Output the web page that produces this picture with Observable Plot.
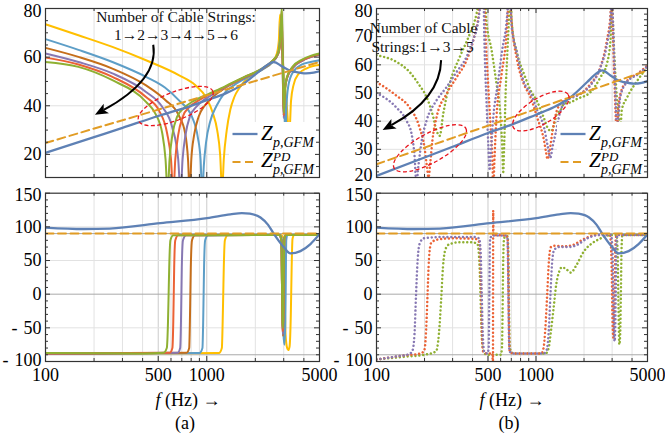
<!DOCTYPE html>
<html><head><meta charset="utf-8">
<script src="https://cdn.jsdelivr.net/npm/d3@7"></script>
<script src="https://cdn.jsdelivr.net/npm/@observablehq/plot@0.6"></script>
<style>
body{margin:0;background:#fff;}
#root{position:relative;width:665px;height:440px;overflow:hidden;background:#fff;}
</style></head><body><div id="root"></div><script>
const FONT = '"Liberation Serif","Times New Roman",Times,serif';

// ---------- axes ----------
const xTickLabels = [100, 500, 1000, 5000];
const xGridMinor = [200, 300, 400, 600, 700, 800, 900, 2000, 3000, 4000];
const xGridMajor = [500, 1000];
const magTicksA = [20, 40, 60, 80];
const magTicksB = [20, 30, 40, 50, 60, 70, 80];
const phaseTicks = [-100, -50, 0, 50, 100, 150];

// ---------- shared curves: Z_p,GFM and Z^PD_p,GFM ----------
const zpMag = [[100,20.6],[200,27.1],[300,30.9],[500,35.8],[692,38.6],[1000,42.3],[1300,45],[1645,48.5],[2094,53.9],[2400,57],[2600,58],[2931,56.2],[3300,54.4],[3554,53.9],[4113,53.3],[4600,53.6],[5000,54.2]];
const zpdMag = [[100,24.7],[5000,58]];
const zpPhase = [[100,99],[173,96.8],[250,97.5],[516,105.5],[1006,113],[1400,118.5],[1650,120.5],[1850,119.5],[2153,114],[2400,103],[2600,90],[3000,70],[3300,60.5],[3810,64],[4395,74.5],[5000,89]];
const zpdPhase = [[100,90],[5000,90]];

// ---------- (a) number of cable strings 1..6 ----------
const stringsA = ["1", "2", "3", "4", "5", "6"];
const colorsA = ["#FFBF00", "#5D9EC7", "#C56E1A", "#8778B3", "#EB6235", "#8FB032"];
const magA1 = [[100,73.5],[160,69],[260,64.2],[420,58.7],[670,52.6],[850,48.4],[1000,43],[1090,37],[1160,30],[1210,20],[1245,5],[1275,18],[1330,30],[1400,38.5],[1480,43.5],[1600,47.5],[1800,51.5],[2200,55],[2550,58],[2720,61.5],[2800,67],[2845,77.5],[2890,70],[2990,55],[3120,42],[3250,28],[3330,42],[3450,48.5],[3700,53],[4200,55.5],[5000,56.8]];
const magA2 = [[100,67.4],[160,63],[260,58],[420,51.9],[550,47.5],[670,42.3],[810,35.4],[880,27],[915,18],[938,3],[958,15],[990,25],[1050,33.5],[1150,40],[1300,45.5],[1500,48.8],[1800,51.8],[2200,54.8],[2550,57.8],[2750,61],[2840,67],[2890,76],[2930,68],[2990,52],[3040,38],[3080,26],[3120,40],[3200,48],[3400,53.5],[3900,57],[4400,58],[5000,58.7]];
const magA3 = [[100,63.8],[160,60.1],[260,55.3],[420,48.4],[555,42.3],[670,36.1],[735,28.6],[765,18],[784,4],[802,18],[835,28],[890,35.5],[970,40],[1100,43.8],[1300,47.3],[1700,51.5],[2200,55],[2550,58.2],[2780,61.5],[2870,68],[2910,77],[2940,65],[2970,48],[3000,36],[3040,46],[3150,51.5],[3400,55.5],[3900,58.5],[4400,60],[5000,61]];
const magA4 = [[100,61.5],[160,58],[260,53.3],[420,45.7],[530,39.5],[610,31.3],[665,18],[688,4],[708,18],[738,28],[785,35.5],[860,39.5],[960,42.5],[1100,44.8],[1300,47.6],[1700,51.6],[2200,55.1],[2550,58.3],[2780,61.6],[2870,68.5],[2910,78],[2940,65],[2970,47],[3000,35],[3040,46],[3150,51.5],[3400,55.5],[3900,58.5],[4400,60],[5000,61.2]];
const magA5 = [[100,59.8],[160,57],[260,51.9],[420,43.6],[505,38.1],[568,28.6],[600,18],[620,4],[638,18],[665,28],[710,35.5],[780,39.5],[880,42],[1000,44.2],[1300,47.8],[1700,51.7],[2200,55.2],[2550,58.4],[2780,61.8],[2870,69],[2915,79],[2945,65],[2975,47],[3005,36],[3045,46],[3150,51.8],[3400,55.8],[3900,58.8],[4400,60.2],[5000,61.3]];
const magA6 = [[100,58],[160,56],[260,50.5],[420,41.6],[480,36.8],[530,28.6],[555,18],[572,4],[588,18],[612,28],[655,35.5],[720,39],[820,41.8],[1000,44.5],[1300,48],[1700,51.8],[2200,55.3],[2550,58.5],[2780,62],[2870,70],[2920,80.5],[2950,65],[2980,46],[3010,37],[3050,46],[3150,52],[3400,56],[3900,59],[4400,60.5],[5000,61.5]];
const phaseA1 = [[100,-89],[1190,-87.5],[1240,-80],[1255,-40],[1265,0],[1275,40],[1295,80],[1350,87.5],[2900,88],[3000,80],[3040,0],[3080,-60],[3150,-80],[3200,-83],[3260,-78],[3320,-30],[3360,40],[3400,82],[3480,88],[5000,88]];
const phaseA2 = [[100,-89],[900,-87.5],[940,-80],[950,-40],[956,0],[962,40],[977,80],[1020,87.5],[2850,88],[2930,80],[2960,0],[2990,-60],[3030,-75],[3070,-40],[3090,20],[3110,80],[3160,88],[5000,88]];
const phaseA3 = [[100,-88.5],[750,-87],[778,-80],[786,-40],[791,0],[796,40],[810,80],[845,87.5],[2820,88],[2900,80],[2925,20],[2950,-45],[2972,-62],[2992,-20],[3012,50],[3035,84],[3100,88],[5000,88]];
const phaseA4 = [[100,-88.5],[660,-87],[684,-80],[692,-40],[696,0],[700,40],[712,80],[745,87.5],[2820,88],[2900,80],[2925,20],[2950,-45],[2970,-60],[2990,-20],[3010,50],[3035,84],[3100,88],[5000,88]];
const phaseA5 = [[100,-88],[590,-87],[612,-80],[620,-40],[624,0],[628,40],[638,80],[665,87.5],[2820,88],[2900,80],[2925,20],[2950,-45],[2968,-55],[2988,-20],[3008,50],[3032,84],[3100,88],[5000,88]];
const phaseA6 = [[100,-87.5],[400,-88],[540,-87],[565,-80],[575,-40],[580,0],[585,40],[595,80],[620,87.5],[2820,88],[2900,80],[2925,20],[2945,-40],[2965,-50],[2985,-20],[3005,50],[3030,84],[3100,88],[5000,88]];

// ---------- (b) number of cable strings 1, 3, 5 ----------
const stringsB = ["1", "3", "5"];
const colorsB = ["#8FB032", "#EB6235", "#8778B3"];
const magB1 = [[100,63.4],[133,61.1],[161,57.5],[186,52.7],[206,48.6],[227,41.4],[238,36.6],[249,34.8],[262,42.6],[288,53.4],[333,62.8],[385,71.1],[424,78.2],[448,86],[466,95],[489,75.8],[527,65.1],[565,53.4],[595,43.8],[613,32],[623,22],[632,32],[645,50],[662,65],[678,78],[690,92],[705,75],[762,64],[838,57],[924,51],[1016,47],[1123,41],[1200,37],[1250,36.5],[1300,39],[1352,42.6],[1425,43.8],[1493,46.1],[1646,46.7],[1810,47.9],[2196,50.3],[2536,55.6],[2783,60.4],[2930,68.7],[2995,82],[3060,70],[3180,52],[3300,42],[3385,38],[3450,44],[3730,48.5],[4316,54.4],[5000,59.2]];
const magB3 = [[100,53.9],[133,49.1],[161,44.9],[186,37.8],[200,30.6],[207,24],[212,20],[218,26],[224,33],[238,41.4],[275,49.7],[318,55.6],[367,61.6],[404,68.7],[438,78.2],[455,88],[468,95],[482,72],[501,53.4],[522,36],[533,26],[540,15],[547,24],[565,41.4],[609,56.8],[653,71.1],[672,84],[686,95],[698,78],[762,61.6],[838,53.3],[924,48.5],[1016,41.4],[1123,33.1],[1160,28.5],[1181,26.5],[1205,28],[1262,35.5],[1352,43.8],[1493,47.3],[1646,48.5],[1901,49.7],[2196,53.3],[2536,59.2],[2783,68.7],[2930,78],[2975,86],[3030,72],[3100,55],[3170,40],[3215,34],[3270,43],[3385,49.7],[3730,54.4],[4316,56.8],[5000,59.8]];
const magB5 = [[100,50],[133,44.9],[154,40.2],[166,35.4],[173,28],[178,18],[183,24],[192,33],[206,40.2],[238,47.4],[275,52.1],[318,57.5],[367,62.8],[404,68.8],[438,77],[455,86],[465,95],[474,70],[489,47.4],[503,31],[512,22.5],[520,28],[539,41],[575,53],[613,65],[655,75.8],[675,86],[688,95],[700,75],[762,64],[838,54],[924,50],[1016,44],[1123,37.8],[1185,31],[1230,27],[1270,31],[1325,35.5],[1425,43.8],[1566,47.3],[1810,49.1],[2196,52.7],[2536,59.2],[2800,68],[2930,76],[2985,86],[3040,75],[3110,58],[3170,45],[3230,36],[3290,42],[3385,49],[3730,54],[4316,56.5],[5000,59.5]];
const phaseB1 = [[100,-97],[150,-93],[200,-90],[236,-85],[246,-60],[254,-10],[261,40],[270,66],[285,74],[330,77],[400,77],[430,74],[443,40],[451,-20],[459,-70],[474,-88],[500,-90],[600,-90],[611,-82],[617,-30],[622,40],[629,80],[640,86],[664,86],[671,60],[677,-20],[685,-80],[720,-88],[1150,-88],[1200,-80],[1240,-55],[1290,-20],[1340,15],[1400,34],[1450,40],[1550,37],[1650,32],[1800,44],[2000,64],[2200,74],[2500,82],[2800,87],[3200,88],[3250,60],[3290,-20],[3330,-75],[3370,-60],[3405,0],[3440,70],[3480,88],[5000,88]];
const phaseB3 = [[100,-97],[150,-91],[190,-88],[200,-82],[205,-50],[209,0],[213,50],[220,76],[240,81],[300,83],[420,82],[443,76],[451,20],[457,-50],[466,-85],[490,-88],[533,-88],[537,-120],[539,124],[541,88],[650,87],[663,83],[670,40],[676,-40],[684,-85],[720,-88],[1080,-88],[1115,-80],[1145,-50],[1175,0],[1205,50],[1240,70],[1300,72],[1500,71],[1700,73],[2000,82],[2400,88],[2900,88],[2955,70],[2990,20],[3025,-50],[3060,-65],[3090,-50],[3120,20],[3150,78],[3200,88],[5000,88]];
const phaseB5 = [[100,-97],[130,-93],[160,-89],[168,-84],[173,-60],[177,0],[181,50],[187,76],[198,83],[260,85],[400,85],[440,83],[450,60],[457,0],[464,-60],[474,-86],[495,-88],[505,-80],[510,0],[515,80],[528,87],[645,87],[662,83],[668,40],[674,-40],[682,-85],[720,-88],[1120,-88],[1170,-82],[1205,-50],[1232,0],[1260,45],[1300,66],[1400,70],[1600,70],[1800,73],[2100,83],[2500,88],[2950,88],[3010,70],[3045,10],[3080,-55],[3110,-70],[3140,-50],[3165,10],[3190,75],[3240,88],[5000,88]];

// ---------- annotations (anchored in data coordinates) ----------
const annotA = {
  text: [{f: 649, v: 74.1, t: "Number of Cable Strings:"}, {f: 649, v: 66.7, t: "1→2→3→4→5→6"}],
  arrow: {from: [469, 64.9], ctrl: [509, 50.5], to: [204, 36.1]},
  ellipses: [{f: 646, v: 39.7, rx: 40, ry: 14, rot: -21.6}]
};
const annotB = {
  text: [{f: 199, v: 71.0, t: "Number of Cable"}, {f: 196, v: 64.5, t: "Strings:1→3→5"}],
  arrow: {from: [256, 61.5], ctrl: [253, 47.9], to: [110, 36.7]},
  ellipses: [{f: 218, v: 30.2, rx: 41, ry: 14.5, rot: -29}, {f: 1080, v: 43.4, rx: 32, ry: 13, rot: -31}]
};

// ---------- styles ----------
const BLUE = "#5E81B5", ORANGE = "#E19C24";
const DASH = "8,4.5", DOT = "0.01,3.9";

const root = document.getElementById("root");

function fmtPhase(d) { return d < 0 ? "-\u2004" + (-d) : String(d); }

function panel(cfg) {
  const fw = cfg.width - cfg.mL - cfg.mR;
  const fh = cfg.height - cfg.mT - cfg.mB;
  const fmt = cfg.fmt || (d => String(d));
  const xy = {x: d => d[0], y: d => d[1], curve: "monotone-x", clip: true};
  const marks = [
    Plot.ruleX(xGridMinor, {x: d => d, stroke: "#e2e2e2"}),
    Plot.ruleX(xGridMajor, {x: d => d, stroke: "#cbcbcb"}),
    Plot.ruleY(cfg.yGrid, {y: d => d, stroke: "#e2e2e2"})
  ];
  if (cfg.yGridDark) marks.push(Plot.ruleY(cfg.yGridDark, {y: d => d, stroke: "#a9a9a9"}));
  cfg.series.forEach((s, i) => {
    if (cfg.dotted) {
      marks.push(Plot.line(s, {...xy, stroke: cfg.colors[i], strokeWidth: 2.5, strokeDasharray: DOT, strokeLinecap: "round"}));
    } else {
      marks.push(Plot.line(s, {...xy, stroke: cfg.colors[i], strokeWidth: 2}));
    }
  });
  marks.push(Plot.line(cfg.blue, {...xy, stroke: BLUE, strokeWidth: 2.3}));
  marks.push(Plot.line(cfg.orange, {...xy, stroke: ORANGE, strokeWidth: 2, strokeDasharray: DASH}));
  // inward frame ticks
  const tk = {stroke: "#333", strokeWidth: 1};
  marks.push(Plot.tickX(xGridMinor, {x: d => d, insetTop: fh - 3, ...tk}));
  marks.push(Plot.tickX(xGridMinor, {x: d => d, insetBottom: fh - 3, ...tk}));
  marks.push(Plot.tickX(xGridMajor, {x: d => d, insetTop: fh - 5, ...tk}));
  marks.push(Plot.tickX(xGridMajor, {x: d => d, insetBottom: fh - 5, ...tk}));
  marks.push(Plot.tickY(cfg.yTicks, {y: d => d, insetRight: fw - 5, ...tk}));
  marks.push(Plot.tickY(cfg.yTicks, {y: d => d, insetLeft: fw - 5, ...tk}));
  marks.push(Plot.tickY(cfg.yMinor, {y: d => d, insetRight: fw - 3, ...tk}));
  marks.push(Plot.tickY(cfg.yMinor, {y: d => d, insetLeft: fw - 3, ...tk}));
  marks.push(Plot.frame({stroke: "#333", strokeWidth: 1.2}));
  // y tick labels (the outermost ones nudged inward, as in the reference)
  const yt = cfg.yTicks;
  const yLab = {frameAnchor: "left", textAnchor: "end", dx: -4, fontSize: 18, fill: "#000", text: fmt};
  marks.push(Plot.text(yt.slice(1, -1), {...yLab, y: d => d}));
  marks.push(Plot.text(yt.slice(-1), {...yLab, y: d => d, dy: 2.5}));
  marks.push(Plot.text(yt.slice(0, 1), {...yLab, y: d => d, dy: cfg.lowNudge || 0}));
  if (cfg.xAxis) {
    marks.push(Plot.text(xTickLabels, {x: d => d, frameAnchor: "bottom", lineAnchor: "top", dy: 7, fontSize: 18, fill: "#000", text: d => String(d)}));
  }
  const p = Plot.plot({
    width: cfg.width, height: cfg.height,
    marginLeft: cfg.mL, marginRight: cfg.mR, marginTop: cfg.mT, marginBottom: cfg.mB,
    x: {type: "log", domain: [100, 5000], axis: null},
    y: {domain: cfg.yDomain, axis: null},
    style: {fontFamily: FONT, fontSize: "18px", color: "#000", background: "transparent", overflow: "visible"},
    marks
  });
  p.style.position = "absolute";
  p.style.left = cfg.left + "px";
  p.style.top = cfg.top + "px";
  root.appendChild(p);
  const sx = p.scale("x"), sy = p.scale("y");
  return {X: f => cfg.left + sx.apply(f), Y: v => cfg.top + sy.apply(v),
          fr: cfg.left + cfg.width - cfg.mR, fb: cfg.top + cfg.height - cfg.mB};
}

const minorA = d3.range(15, 80, 5).filter(v => v % 20 !== 0);
const minorB = d3.range(22, 80, 2).filter(v => v % 10 !== 0);
const minorP = d3.range(-90, 150, 10).filter(v => v % 50 !== 0);

const TL = panel({left: 0, top: 0, width: 330, height: 185, mL: 45, mR: 11, mT: 8, mB: 8,
  yDomain: [10.5, 80], yTicks: magTicksA, yMinor: minorA, yGrid: [20, 40, 60],
  series: [magA1, magA2, magA3, magA4, magA5, magA6], colors: colorsA, dotted: false,
  blue: zpMag, orange: zpdMag, xAxis: false});
const TR = panel({left: 330, top: 0, width: 335, height: 185, mL: 46, mR: 18, mT: 8, mB: 8,
  yDomain: [20, 80], yTicks: magTicksB, yMinor: minorB, yGrid: [30, 40, 50, 60, 70],
  series: [magB1, magB3, magB5], colors: colorsB, dotted: true,
  blue: zpMag, orange: zpdMag, xAxis: false, lowNudge: -2});
const BL = panel({left: 0, top: 185, width: 330, height: 205, mL: 45, mR: 11, mT: 7.7, mB: 29,
  yDomain: [-100, 150], yTicks: phaseTicks, yMinor: minorP, yGrid: [-50, 50, 100], yGridDark: [-90, 0, 90],
  series: [phaseA1, phaseA2, phaseA3, phaseA4, phaseA5, phaseA6], colors: colorsA, dotted: false,
  blue: zpPhase, orange: zpdPhase, xAxis: true, fmt: fmtPhase, lowNudge: -1});
const BR = panel({left: 330, top: 185, width: 335, height: 205, mL: 46, mR: 18, mT: 7.7, mB: 29,
  yDomain: [-100, 150], yTicks: phaseTicks, yMinor: minorP, yGrid: [-50, 50, 100], yGridDark: [-90, 0, 90],
  series: [phaseB1, phaseB3, phaseB5], colors: colorsB, dotted: true,
  blue: zpPhase, orange: zpdPhase, xAxis: true, fmt: fmtPhase, lowNudge: -1});

// ---------- overlay: legends, annotations, axis titles ----------
const svg = d3.create("svg").attr("width", 665).attr("height", 440)
  .style("position", "absolute").style("left", "0px").style("top", "0px")
  .style("font-family", FONT).style("pointer-events", "none");

function legend(P) {
  const fr = P.fr, fb = P.fb;
  const g = svg.append("g");
  g.append("rect").attr("x", fr - 90).attr("y", fb - 55).attr("width", 86).attr("height", 51).attr("fill", "#fff");
  g.append("line").attr("x1", fr - 86.5).attr("x2", fr - 61.5).attr("y1", fb - 43).attr("y2", fb - 43)
    .attr("stroke", BLUE).attr("stroke-width", 2.3);
  g.append("line").attr("x1", fr - 86.5).attr("x2", fr - 61.5).attr("y1", fb - 15).attr("y2", fb - 15)
    .attr("stroke", ORANGE).attr("stroke-width", 2).attr("stroke-dasharray", DASH);
  const t = (x, y, s, size) => g.append("text").attr("x", x).attr("y", y).attr("font-size", size)
    .attr("font-style", "italic").attr("fill", "#000").text(s);
  t(fr - 58, fb - 37, "Z", 21);
  t(fr - 46, fb - 30.5, "p,GFM", 14);
  t(fr - 58, fb - 10, "Z", 21);
  t(fr - 46, fb - 16.5, "PD", 13);
  t(fr - 46, fb - 3, "p,GFM", 14);
}
legend(TL);
legend(TR);

function annotate(P, A) {
  const g = svg.append("g");
  A.ellipses.forEach(e => {
    const cx = P.X(e.f), cy = P.Y(e.v);
    g.append("ellipse").attr("cx", cx).attr("cy", cy).attr("rx", e.rx).attr("ry", e.ry)
      .attr("transform", `rotate(${e.rot} ${cx} ${cy})`)
      .attr("fill", "none").attr("stroke", "#e8141c").attr("stroke-width", 1.3).attr("stroke-dasharray", "4,2.5");
  });
  A.text.forEach(d => {
    g.append("text").attr("x", P.X(d.f)).attr("y", P.Y(d.v)).attr("text-anchor", "middle")
      .attr("font-size", 15.5).attr("fill", "#111").text(d.t);
  });
  const p0 = [P.X(A.arrow.from[0]), P.Y(A.arrow.from[1])];
  const c = [P.X(A.arrow.ctrl[0]), P.Y(A.arrow.ctrl[1])];
  const p2 = [P.X(A.arrow.to[0]), P.Y(A.arrow.to[1])];
  let ux = p2[0] - c[0], uy = p2[1] - c[1];
  const L = Math.hypot(ux, uy); ux /= L; uy /= L;
  const nx = -uy, ny = ux;
  const len = 13, hw = 5.5;
  const bx = p2[0] - ux * len, by = p2[1] - uy * len;
  g.append("path").attr("d", `M${p0[0]},${p0[1]} Q${c[0]},${c[1]} ${bx + ux * 3},${by + uy * 3}`)
    .attr("fill", "none").attr("stroke", "#000").attr("stroke-width", 2);
  g.append("path").attr("d", `M${p2[0]},${p2[1]} L${bx + nx * hw},${by + ny * hw} L${bx + ux * 3},${by + uy * 3} L${bx - nx * hw},${by - ny * hw} Z`)
    .attr("fill", "#000");
}
annotate(TL, annotA);
annotate(TR, annotB);

function xTitle(cx, letter) {
  const t = svg.append("text").attr("x", cx).attr("y", 406).attr("text-anchor", "middle").attr("font-size", 18).attr("fill", "#000");
  t.append("tspan").attr("font-style", "italic").text("f");
  t.append("tspan").text(" (Hz) →");
  svg.append("text").attr("x", cx - 3).attr("y", 429).attr("text-anchor", "middle").attr("font-size", 18).attr("fill", "#000").text(letter);
}
xTitle(188, "(a)");
xTitle(512, "(b)");

root.appendChild(svg.node());
</script></body></html>
